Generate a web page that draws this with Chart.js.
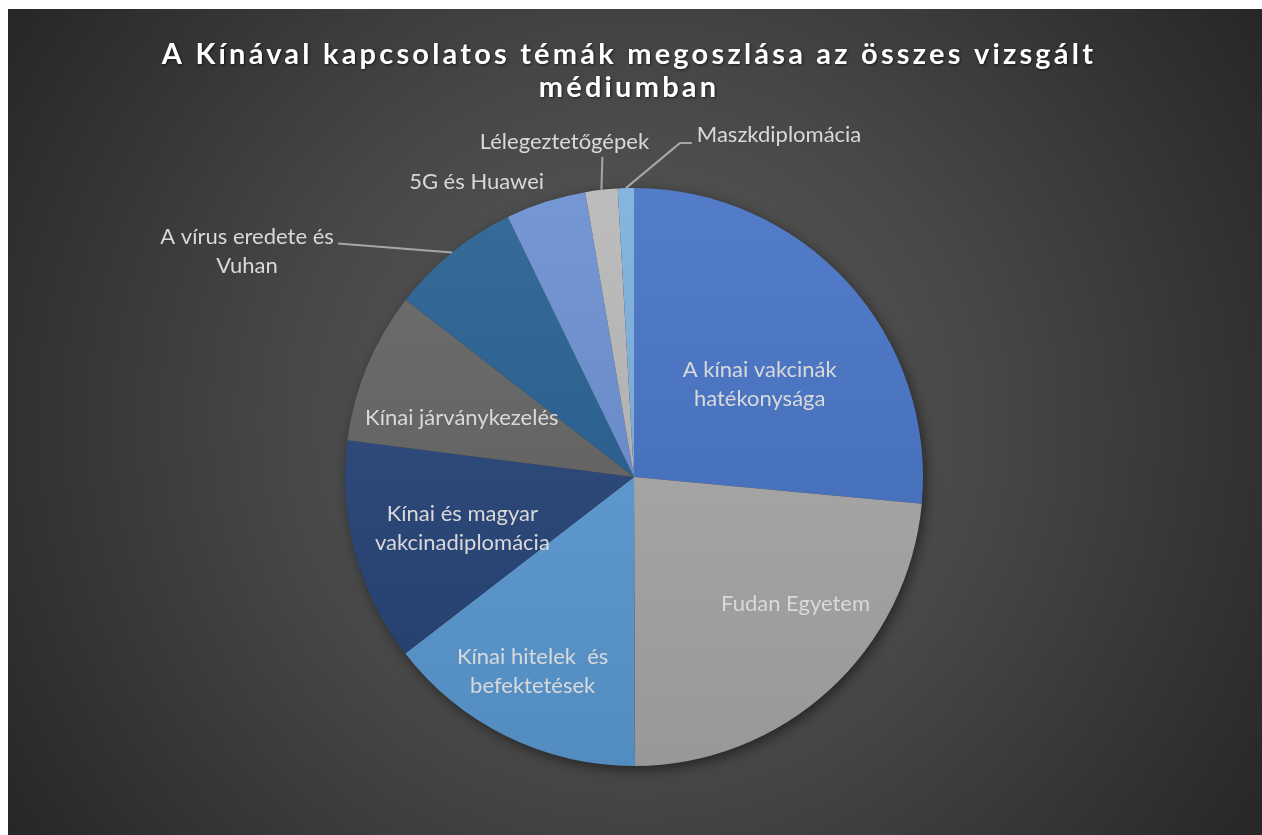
<!DOCTYPE html>
<html><head><meta charset="utf-8">
<script src="https://cdn.jsdelivr.net/npm/chart.js@4.4.1/dist/chart.umd.min.js"></script>
<style>
html,body{margin:0;padding:0;background:#fff;overflow:hidden;width:1262px;height:835px}
#wrap{position:absolute;left:8px;top:9px;width:1254px;height:826px}
</style></head><body>
<div id="wrap"><canvas id="c" width="1254" height="826"></canvas></div>
<script>
// ---- data ----
const titleLines = ["A Kínával kapcsolatos témák megoszlása az összes vizsgált", "médiumban"];
const categories = [
  "A kínai vakcinák hatékonysága",
  "Fudan Egyetem",
  "Kínai hitelek és befektetések",
  "Kínai és magyar vakcinadiplomácia",
  "Kínai járványkezelés",
  "A vírus eredete és Vuhan",
  "5G és Huawei",
  "Lélegeztetőgépek",
  "Maszkdiplomácia"
];
const labelLines = [
  ["A kínai vakcinák", "hatékonysága"],
  ["Fudan Egyetem"],
  ["Kínai hitelek  és", "befektetések"],
  ["Kínai és magyar", "vakcinadiplomácia"],
  ["Kínai járványkezelés"],
  ["A vírus eredete és", "Vuhan"],
  ["5G és Huawei"],
  ["Lélegeztetőgépek"],
  ["Maszkdiplomácia"]
];
const shares = [26.5, 23.5, 14.6, 12.5, 8.5, 7.3, 4.5, 1.8, 0.9];
const sliceColors = ["#4472C4", "#A9A9A9", "#5B9BD5", "#264478", "#636363", "#255E91", "#698ED0", "#B7B7B7", "#7CAFDD"];

// ---- label layout (style) ----
const labelLayout = [
  {mode: "in", frac: 0.54, shift: 6},
  {mode: "in", frac: 0.71, shift: -9.5},
  {mode: "in", frac: 0.76, shift: 1.4},
  {mode: "in", frac: 0.62, shift: -1.5},
  {mode: "in", frac: 0.63, shift: -3.6},
  {mode: "out", dx: -205, dy: -1, align: "center", leader: [[-114, -9]]},
  {mode: "out", dx: -69, dy: -20, align: "center", leader: []},
  {mode: "out", dx: -37, dy: -48, align: "center", leader: [[1, -33]]},
  {mode: "out", dx: 71, dy: -53, align: "left", leader: [[54, -45], [66, -45]]}
];

const FONT = "Lato, 'Open Sans', sans-serif";
const LABEL_COLOR = "#d9d9d9";
const LINE_H = 29;

function hexToRgb(h) { const n = parseInt(h.slice(1), 16); return [(n >> 16) & 255, (n >> 8) & 255, n & 255]; }
function shade(h, f) {
  const c = hexToRgb(h).map(v => f >= 0 ? Math.round(v + (255 - v) * f) : Math.round(v * (1 + f)));
  return `rgb(${c[0]},${c[1]},${c[2]})`;
}

const bgPlugin = {
  id: "bg",
  beforeDraw(chart) {
    const ctx = chart.ctx, w = chart.width, h = chart.height;
    ctx.save();
    const g = ctx.createRadialGradient(w / 2, h * 0.5, 0, w / 2, h * 0.5, 780);
    g.addColorStop(0, "#5e5e5e");
    g.addColorStop(0.45, "#474747");
    g.addColorStop(1, "#242424");
    ctx.fillStyle = g;
    ctx.fillRect(0, 0, w, h);
    // title
    ctx.fillStyle = "#ffffff";
    ctx.font = "bold 29px " + FONT;
    ctx.letterSpacing = "3.2px";
    ctx.textAlign = "center";
    ctx.textBaseline = "middle";
    ctx.shadowColor = "rgba(0,0,0,0.6)";
    ctx.shadowBlur = 3; ctx.shadowOffsetX = 1; ctx.shadowOffsetY = 1;
    titleLines.forEach((t, i) => ctx.fillText(t, w / 2 - 6, 46 + i * 33));
    ctx.restore();
  },
  beforeDatasetsDraw(chart) {
    const arc = chart.getDatasetMeta(0).data[0];
    if (!arc) return;
    const ctx = chart.ctx;
    ctx.save();
    ctx.shadowColor = "rgba(0,0,0,0.55)";
    ctx.shadowBlur = 14; ctx.shadowOffsetX = 3; ctx.shadowOffsetY = 4;
    ctx.fillStyle = "#333";
    ctx.beginPath();
    ctx.arc(arc.x, arc.y, arc.outerRadius - 1, 0, Math.PI * 2);
    ctx.fill();
    ctx.restore();
  },
  afterDatasetsDraw(chart) {
    const ctx = chart.ctx;
    const meta = chart.getDatasetMeta(0);
    ctx.save();
    ctx.font = "22px " + FONT;
    ctx.fillStyle = LABEL_COLOR;
    ctx.textBaseline = "middle";
    meta.data.forEach((a, i) => {
      const L = labelLayout[i];
      const lines = labelLines[i];
      const mid = (a.startAngle + a.endAngle) / 2;
      let cx, cy;
      if (L.mode === "in") {
        const ang = mid + L.shift * Math.PI / 180;
        const r = a.outerRadius * L.frac;
        cx = a.x + Math.cos(ang) * r; cy = a.y + Math.sin(ang) * r;
        ctx.textAlign = "center";
      } else {
        const ax = a.x + Math.cos(mid) * a.outerRadius;
        const ay = a.y + Math.sin(mid) * a.outerRadius;
        if (L.leader.length) {
          ctx.strokeStyle = "#a6a6a6";
          ctx.lineWidth = 2;
          ctx.beginPath();
          ctx.moveTo(ax, ay);
          L.leader.forEach(p => ctx.lineTo(ax + p[0], ay + p[1]));
          ctx.stroke();
        }
        cx = ax + L.dx; cy = ay + L.dy;
        ctx.textAlign = L.align;
      }
      const y0 = cy - (lines.length - 1) * LINE_H / 2;
      lines.forEach((t, k) => ctx.fillText(t, cx, y0 + k * LINE_H));
    });
    ctx.restore();
  }
};

new Chart(document.getElementById("c"), {
  type: "pie",
  data: {
    labels: categories,
    datasets: [{
      data: shares,
      borderWidth: 0,
      backgroundColor(ctx) {
        const chart = ctx.chart;
        const base = sliceColors[ctx.dataIndex];
        const area = chart.chartArea;
        if (!area) return base;
        const g = chart.ctx.createLinearGradient(0, area.top, 0, area.bottom);
        g.addColorStop(0, shade(base, 0.08));
        g.addColorStop(1, shade(base, -0.1));
        return g;
      }
    }]
  },
  options: {
    responsive: false,
    animation: false,
    devicePixelRatio: 1,
    layout: { padding: { top: 179, bottom: 69, left: 0, right: 2 } },
    plugins: { legend: { display: false }, tooltip: { enabled: false }, title: { display: false } }
  },
  plugins: [bgPlugin]
});
</script>
</body></html>
